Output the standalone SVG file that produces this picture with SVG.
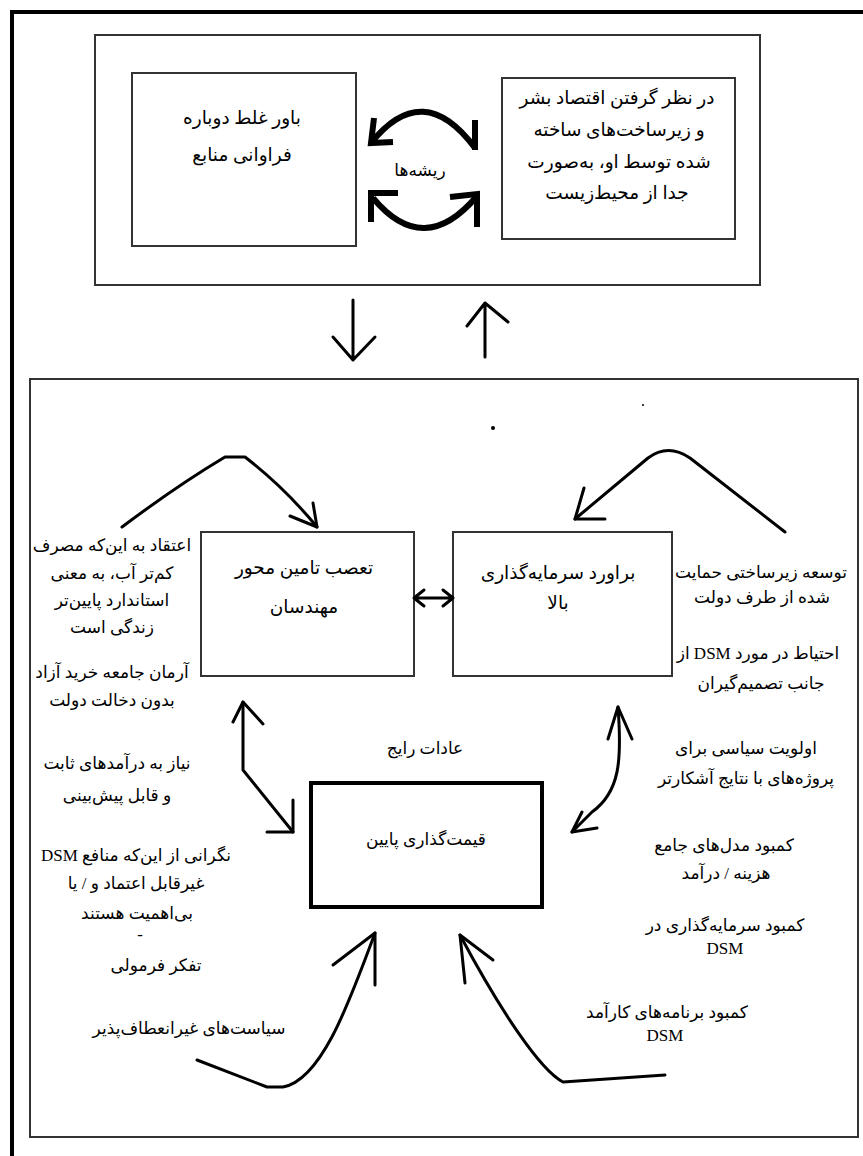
<svg xmlns="http://www.w3.org/2000/svg" width="863" height="1156" viewBox="0 0 863 1156">
  <style>
    .frame { fill: none; stroke: #000; stroke-width: 4; }
    .box { fill: #fff; stroke: #333; stroke-width: 2; }
    .box-thick { fill: #fff; stroke: #000; stroke-width: 4; }
    .txt { font-family: "Liberation Serif", "DejaVu Sans", serif; font-size: 17px; fill: #000; text-anchor: middle; direction: rtl; }
    .title { font-size: 18.5px; }
    .conn { fill: none; stroke: #000; stroke-width: 3; stroke-linecap: round; stroke-linejoin: round; }
    .cycle { fill: none; stroke: #000; stroke-width: 6; stroke-linejoin: miter; }
  </style>
  <rect width="863" height="1156" fill="#fff"/>

  <!-- page frame: left and top edges only -->
  <path class="frame" d="M12,1160 L12,12 L870,12"/>

  <!-- roots panel -->
  <g id="roots-panel">
    <rect class="box" x="95" y="35" width="665" height="250"/>
  </g>
  <g id="node-abundance">
    <rect class="box" x="132" y="73" width="224" height="173" stroke-width="1.5"/>
    <text class="txt title" x="242" y="124">باور غلط دوباره</text>
    <text class="txt title" x="242" y="161">فراوانی منابع</text>
  </g>
  <g id="node-economy">
    <rect class="box" x="502" y="78" width="233" height="161" stroke-width="1.5"/>
    <text class="txt title" x="617" y="104">در نظر گرفتن اقتصاد بشر</text>
    <text class="txt title" x="619" y="136">و زیرساخت‌های ساخته</text>
    <text class="txt title" x="619" y="168">شده توسط او، به‌صورت</text>
    <text class="txt title" x="617" y="199">جدا از محیط‌زیست</text>
  </g>
  <g id="label-roots">
    <text class="txt" x="420" y="176" font-size="18px">ریشه‌ها</text>
  </g>

  <!-- lower panel -->
  <g id="practice-panel">
    <rect class="box" x="30" y="379" width="828" height="758"/>
  </g>
  <g id="node-engineers">
    <rect class="box" x="201" y="532" width="213" height="144" stroke-width="1.5"/>
    <text class="txt title" x="304" y="574" font-size="19.5px">تعصب تامین محور</text>
    <text class="txt title" x="304" y="613" font-size="19.5px">مهندسان</text>
  </g>
  <g id="node-investment">
    <rect class="box" x="453" y="532" width="219" height="144" stroke-width="1.5"/>
    <text class="txt title" x="558" y="579" font-size="19.5px">براورد سرمایه‌گذاری</text>
    <text class="txt title" x="558" y="609" font-size="19.5px">بالا</text>
  </g>
  <g id="node-pricing">
    <rect class="box-thick" x="311" y="783" width="231" height="124"/>
    <text class="txt" x="426" y="845" font-size="20.5px">قیمت‌گذاری پایین</text>
  </g>
  <g id="label-habits">
    <text class="txt" x="425" y="754" font-size="19px">عادات رایج</text>
  </g>

  <!-- factors on the left -->
  <g id="factors-left">
    <text class="txt" x="112" y="551">اعتقاد به این‌که مصرف</text>
    <text class="txt" x="112" y="579">کم‌تر آب، به معنی</text>
    <text class="txt" x="112" y="606">استاندارد پایین‌تر</text>
    <text class="txt" x="112" y="633">زندگی است</text>
    <text class="txt" x="112" y="678">آرمان جامعه خرید آزاد</text>
    <text class="txt" x="112" y="706">بدون دخالت دولت</text>
    <text class="txt" x="117" y="769">نیاز به درآمدهای ثابت</text>
    <text class="txt" x="117" y="801">و قابل پیش‌بینی</text>
    <text class="txt" x="136" y="861">نگرانی از این‌که منافع DSM</text>
    <text class="txt" x="136" y="889">غیرقابل اعتماد و / یا</text>
    <text class="txt" x="137" y="919">بی‌اهمیت هستند</text>
    <text class="txt" x="140" y="940" font-size="10px">-</text>
    <text class="txt" x="156" y="971">تفکر فرمولی</text>
    <text class="txt" x="189" y="1034">سیاست‌های غیرانعطاف‌پذیر</text>
  </g>

  <!-- factors on the right -->
  <g id="factors-right">
    <text class="txt" x="761" y="578">توسعه زیرساختی حمایت</text>
    <text class="txt" x="762" y="603">شده از طرف دولت</text>
    <text class="txt" x="758" y="659">احتیاط در مورد DSM از</text>
    <text class="txt" x="761" y="689">جانب تصمیم‌گیران</text>
    <text class="txt" x="746" y="754">اولویت سیاسی برای</text>
    <text class="txt" x="746" y="784">پروژه‌های با نتایج آشکارتر</text>
    <text class="txt" x="724" y="851">کمبود مدل‌های جامع</text>
    <text class="txt" x="726" y="879">هزینه / درآمد</text>
    <text class="txt" x="725" y="931">کمبود سرمایه‌گذاری در</text>
    <text class="txt" x="725" y="954">DSM</text>
    <text class="txt" x="667" y="1018">کمبود برنامه‌های کارآمد</text>
    <text class="txt" x="665" y="1041">DSM</text>
  </g>

  <!-- stray marks -->
  <g id="marks">
    <circle cx="643" cy="405" r="1" fill="#000"/>
    <circle cx="493" cy="428" r="2" fill="#000"/>
  </g>

  <!-- connectors -->
  <g id="connectors">
    <!-- cycle between the two roots -->
    <path class="cycle" d="M371,143 Q423,78 475,148"/>
    <path class="cycle" d="M374,118 L371,143 L393,142"/>
    <path class="cycle" d="M475,120 L475,150" stroke-width="3"/>
    <path class="cycle" d="M373,198 Q424,259 477,196"/>
    <path class="cycle" d="M371,222 L371,193 L398,193"/>
    <path class="cycle" d="M450,197 L477,194 L477,227"/>

    <!-- roots panel to practice panel -->
    <path class="conn" d="M353,300 L353,360 M333,337 L353,360 L375,337"/>
    <path class="conn" d="M485,357 L485,303 M467,326 L485,303 L508,322"/>

    <!-- into the two upper nodes -->
    <path class="conn" d="M122,527 Q178,485 225,457 L245,457 Q285,488 317,527"/>
    <path class="conn" d="M290,516 L317,527 L313,503"/>
    <path class="conn" d="M785,532 L690,458 Q668,443 648,458 L575,519"/>
    <path class="conn" d="M605,519 L575,519 L584,488"/>

    <!-- between the upper nodes -->
    <path class="conn" d="M414,598 L453,598 M424,590 L414,598 L424,606 M443,590 L453,598 L443,606"/>

    <!-- upper nodes to pricing -->
    <path class="conn" d="M243,702 L243,770 L293,832"/>
    <path class="conn" d="M233,722 L243,702 L263,724 M267,832 L293,832 L293,800"/>
    <path class="conn" d="M618,707 C622,760 620,792 592,812 L572,832"/>
    <path class="conn" d="M608,739 L618,707 L632,739 M597,828 L572,832 L582,812"/>

    <!-- from the bottom into pricing -->
    <path class="conn" d="M197,1060 L267,1087 L283,1087 C322,1080 350,1000 375,933"/>
    <path class="conn" d="M375,985 L375,933 L333,965"/>
    <path class="conn" d="M665,1075 L563,1082 C540,1070 500,1010 460,935"/>
    <path class="conn" d="M493,960 L460,935 L465,983"/>
  </g>
</svg>
